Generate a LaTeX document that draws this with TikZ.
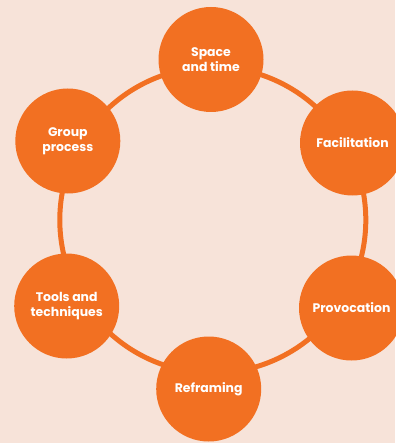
\documentclass[tikz,border=0pt]{standalone}
\usepackage{fontspec}
\newfontfamily\lblfont{Poppins}
\definecolor{peach}{RGB}{247,227,217}
\definecolor{brandorange}{RGB}{242,112,34}
\begin{document}
\begin{tikzpicture}[x=1bp,y=-1bp,
  ring/.style={draw=brandorange,line width=5bp},
  topic/.style={circle,fill=brandorange,minimum size=105bp,inner sep=0pt,
    text=white,align=center,
    font=\lblfont\bfseries\fontsize{12.5}{15}\selectfont}]
  \fill[peach] (0,0) rectangle (395,443);
  \useasboundingbox (0,0) rectangle (395,443);
  % ring linking the six topics
  \coordinate (hub) at (212.8,220);
  \draw[ring] (hub) circle [radius=153];
  % topics
  \node[topic] (space) at (211,59.5) {Space\\and time};
  \node[topic] (facil) at (352.5,143) {Facilitation};
  \node[topic] (provo) at (351.5,308) {Provocation};
  \node[topic] (refr)  at (208.7,389) {Reframing};
  \node[topic] (tools) at (66.7,306) {Tools and\\techniques};
  \node[topic] (group) at (67.8,141) {Group\\process};
\end{tikzpicture}
\end{document}
